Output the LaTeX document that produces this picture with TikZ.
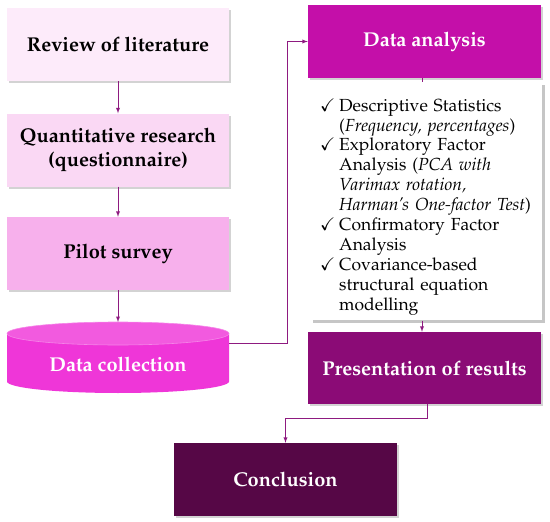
\documentclass[tikz,border=0pt]{standalone}
\usepackage[T1]{fontenc}
\usepackage{mathpazo}
\usepackage{amssymb}
\usetikzlibrary{shadows}
\definecolor{revlit}{HTML}{FDEBFA}
\definecolor{quant}{HTML}{FAD8F4}
\definecolor{pilot}{HTML}{F7B0EC}
\definecolor{collect}{HTML}{EF36D8}
\definecolor{collecttop}{HTML}{F25ADF}
\definecolor{analysis}{HTML}{C40FA9}
\definecolor{present}{HTML}{8B0B76}
\definecolor{concl}{HTML}{560746}
\definecolor{linkc}{HTML}{8E1A80}
\begin{document}
\begin{tikzpicture}[x=1pt, y=-1pt, >=latex,
		stepbox/.style={rectangle, minimum width=222pt, minimum height=73pt,
			font=\fontsize{20}{24}\selectfont\bfseries, align=center,
			drop shadow={opacity=0.35, shadow xshift=2pt, shadow yshift=-2pt}},
		darkbox/.style={stepbox, minimum width=233pt, text=white},
		listbox/.style={rectangle, fill=white, minimum width=232pt, minimum height=227pt,
			text width=212pt, inner xsep=10pt, align=left,
			font=\fontsize{17.5}{20}\selectfont,
			drop shadow={opacity=0.45, shadow xshift=2.5pt, shadow yshift=-2.5pt}},
		link/.style={linkc, line width=0.9pt}]
	\useasboundingbox (0,0) rectangle (550,522);
	% left column
	\node[stepbox, fill=revlit] (rev) at (118,44.5) {Review of literature};
	\node[stepbox, fill=quant] (quant) at (118,150) {Quantitative research\\(questionnaire)};
	\node[stepbox, fill=pilot] (pilot) at (118,253.5) {Pilot survey};
	% data collection drum
	\fill[collect] (7,333.5) -- (7,381.5) arc[start angle=180, end angle=0,
		x radius=111, y radius=11.5] -- (229,333.5) -- cycle;
	\filldraw[fill=collecttop, draw=collect!60!white, line width=0.6pt]
		(118,333.5) ellipse[x radius=111, y radius=11.5];
	\node[font=\fontsize{20}{24}\selectfont\bfseries, text=white] (collect) at (118,364) {Data collection};
	\coordinate (collectR) at (229,343);
	% right column
	\node[darkbox, fill=analysis] (analysis) at (424.5,41.5) {Data analysis};
	\node[listbox] (tools) at (426,201.5) {%
		\vspace*{10pt}
		\begin{tabular}{@{}l@{\hspace{4pt}}l@{}}
			$\checkmark$ & Descriptive Statistics\\
			& (\textit{Frequency, percentages})\\
			$\checkmark$ & Exploratory Factor\\
			& Analysis (\textit{PCA with}\\
			& \textit{Varimax rotation,}\\
			& \textit{Harman's One-factor Test})\\
			$\checkmark$ & Confirmatory Factor\\
			& Analysis\\
			$\checkmark$ & Covariance-based\\
			& structural equation\\
			& modelling
		\end{tabular}};
	\node[darkbox, fill=present, minimum height=72pt] (present) at (424.5,368) {Presentation of results};
	\node[stepbox, fill=concl, minimum width=223pt, text=white] (concl) at (285.5,479.5) {Conclusion};
	\coordinate (daS) at ([xshift=-2.5pt]analysis.south);
	% connectors
	\draw[link, ->] (rev) -- (quant);
	\draw[link, ->] (quant) -- (pilot);
	\draw[link, ->] (pilot) -- (118,322);
	\draw[link, ->] (collectR) -- ++(58,0) |- (analysis.west);
	\draw[link] (daS) -- (daS |- tools.north);
	\draw[link, ->] (daS |- tools.south) -- (daS |- present.north);
	\draw[link, ->] ([xshift=2.5pt]present.south) -- ++(0,14) -| (concl.north);
\end{tikzpicture}
\end{document}
